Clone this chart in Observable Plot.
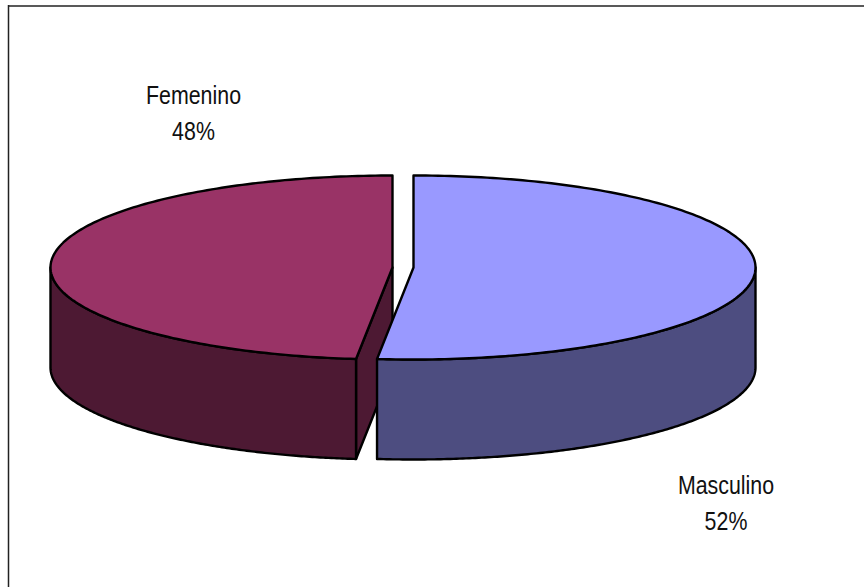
<!DOCTYPE html>
<html>
<head>
<meta charset="utf-8">
<script src="https://cdn.jsdelivr.net/npm/d3@7"></script>
<script src="https://cdn.jsdelivr.net/npm/@observablehq/plot@0.6"></script>
<style>
html,body{margin:0;padding:0;background:#fff;overflow:hidden}
svg{display:block}
</style>
</head>
<body>
<div id="chart"></div>
<script>
const categories = ["Masculino", "Femenino"];
const shares = [51.7, 48.3];
const topColors = ["#9999FF", "#993366"];
const sideColors = ["#4D4D80", "#4D1933"];

const W = 864, H = 587;
const rx = 342, ry = 92, depth = 100, cy = 267;
const centers = [413, 392];
const labelPos = [[725.5, 500], [193, 110]];

const total = d3.sum(shares);
const cut = 2 * Math.PI * shares[0] / total;
const ang = [[0, cut], [cut, 2 * Math.PI]];

function pt(cx, t, dz = 0) {
  return {x: cx + rx * Math.sin(t), y: cy - ry * Math.cos(t) + dz};
}
function arc(cx, a, b, dz = 0) {
  const n = 180, out = [];
  for (let i = 0; i <= n; i++) out.push(pt(cx, a + (b - a) * i / n, dz));
  return out;
}
const tag = (pts, key) => pts.map(p => ({...p, key}));

function topFace(i) {
  return tag([{x: centers[i], y: cy}, ...arc(centers[i], ang[i][0], ang[i][1])], "top" + i);
}
function outerWall(i, a, b) {
  return tag([...arc(centers[i], a, b), ...arc(centers[i], b, a, depth)], "wall" + i);
}
const femCut = tag([
  {x: centers[1], y: cy},
  pt(centers[1], cut),
  pt(centers[1], cut, depth),
  {x: centers[1], y: cy + depth}
], "cut1");

const shape = (data, fill) => Plot.line(data, {
  x: "x", y: "y", fill, stroke: "#000", strokeWidth: 2.4,
  strokeLinejoin: "round", curve: "linear-closed"
});

const labels = categories.map((c, i) => ({
  text: `${c}\n${Math.round(shares[i] / total * 100)}%`,
  x: labelPos[i][0], y: labelPos[i][1]
}));

const chart = Plot.plot({
  width: W, height: H,
  margin: 0,
  x: {domain: [0, W], range: [0, W], axis: null},
  y: {domain: [0, H], range: [0, H], axis: null},
  marks: [
    Plot.ruleY([5.5], {x1: 8, x2: W, stroke: "#222", strokeWidth: 1.5}),
    Plot.ruleX([8], {y1: 5, y2: H, stroke: "#222", strokeWidth: 1.5}),
    shape(femCut, sideColors[1]),
    shape(outerWall(1, cut, 1.5 * Math.PI), sideColors[1]),
    shape(topFace(1), topColors[1]),
    shape(outerWall(0, 0.5 * Math.PI, cut), sideColors[0]),
    shape(topFace(0), topColors[0]),
    Plot.text(labels, {
      x: "x", y: "y", text: "text", fill: "#111",
      fontFamily: "'Liberation Sans',sans-serif",
      fontSize: 25, lineHeight: 1.42, textAnchor: "middle"
    })
  ]
});
// Condense the labels horizontally, like the narrow face of the original.
d3.select(chart).selectAll("text").each(function () {
  const t = d3.select(this);
  t.attr("transform", `${t.attr("transform") || ""} scale(0.855,1)`);
});
document.getElementById("chart").appendChild(chart);
</script>
</body>
</html>
